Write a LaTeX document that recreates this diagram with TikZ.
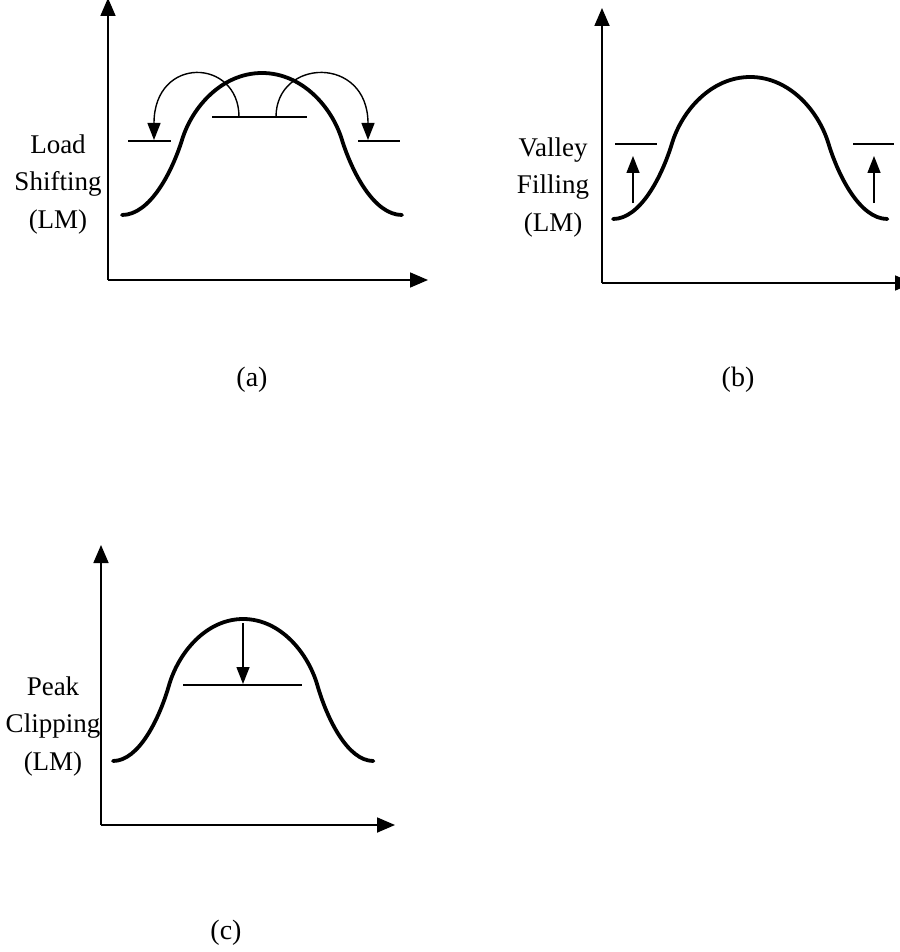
\documentclass[tikz,border=0pt]{standalone}
\usepackage{fontspec}
\setmainfont{Liberation Serif}
\usetikzlibrary{arrows.meta}
% bell shaped load curve, 280 wide and 142 high, from its left end
\newcommand{\loadcurve}{%
  (0,0) .. controls (28,0) and (50,-43) .. (60,-75)
        .. controls (70,-108) and (100,-142) .. (140,-142)
        .. controls (180,-142) and (210,-108) .. (220,-75)
        .. controls (230,-43) and (252,0) .. (280,0)}

\begin{document}
\begin{tikzpicture}[
  x=1pt, y=-1pt,
  axis/.style={line width=1.8pt, -{Triangle[length=18pt, width=15pt]}},
  curve/.style={line width=3.8pt, line cap=round},
  level/.style={line width=1.4pt},
  move/.style={line width=1.4pt, -{Triangle[length=17pt, width=13pt]}},
  axislabel/.style={font=\fontsize{27}{37.5}\selectfont, align=center,
                    anchor=base, inner sep=0pt},
  subcap/.style={font=\fontsize{28}{34}\selectfont, inner sep=0pt}
]
  \useasboundingbox (0,0) rectangle (899,952);

  % (a) load shifting
  \coordinate (a-o) at (108,280);
  \coordinate (a-y) at (108,-2);
  \coordinate (a-x) at (428,280);
  \draw[axis] (a-o) -- (a-y);
  \draw[axis] (a-o) -- (a-x);
  \begin{scope}[shift={(122,215)}]
    \draw[curve] \loadcurve;
  \end{scope}
  \draw[level] (128,141) -- (171,141);
  \draw[level] (212,117) -- (307,117);
  \draw[level] (358,141) -- (400,141);
  \coordinate (a-from1) at (239,117);
  \coordinate (a-to1) at (154,140);
  \coordinate (a-from2) at (276,117);
  \coordinate (a-to2) at (368,140);
  \draw[move] (a-from1) .. controls (239,58) and (154,55) .. (a-to1);
  \draw[move] (a-from2) .. controls (276,58) and (368,55) .. (a-to2);
  \node[axislabel] (shifting) at (58,228) {Load\\Shifting\\(LM)};
  \node[subcap] (cap-a) at (252,380) {(a)};

  % (b) valley filling
  \coordinate (b-o) at (602,283);
  \coordinate (b-y) at (602,8);
  \coordinate (b-x) at (913,283);
  \draw[axis] (b-o) -- (b-y);
  \draw[axis] (b-o) -- (b-x);
  \begin{scope}[shift={(613,219)}, xscale=0.98]
    \draw[curve] \loadcurve;
  \end{scope}
  \draw[level] (615,144) -- (657,144);
  \draw[level] (853,144) -- (894,144);
  \coordinate (b-from1) at (633,203);
  \coordinate (b-to1) at (633,156);
  \coordinate (b-from2) at (874,203);
  \coordinate (b-to2) at (874,156);
  \draw[move] (b-from1) -- (b-to1);
  \draw[move] (b-from2) -- (b-to2);
  \node[axislabel] (filling) at (553,231) {Valley\\Filling\\(LM)};
  \node[subcap] (cap-b) at (738,380) {(b)};

  % (c) peak clipping
  \coordinate (c-o) at (101,825);
  \coordinate (c-y) at (101,545);
  \coordinate (c-x) at (395,825);
  \draw[axis] (c-o) -- (c-y);
  \draw[axis] (c-o) -- (c-x);
  \begin{scope}[shift={(113,761)}, xscale=0.93]
    \draw[curve] \loadcurve;
  \end{scope}
  \draw[level] (183,685) -- (302,685);
  \coordinate (c-from) at (243,623);
  \coordinate (c-to) at (243,684);
  \draw[move] (c-from) -- (c-to);
  \node[axislabel] (clipping) at (53,770) {Peak\\Clipping\\(LM)};
  \node[subcap] (cap-c) at (226,933) {(c)};
\end{tikzpicture}
\end{document}
